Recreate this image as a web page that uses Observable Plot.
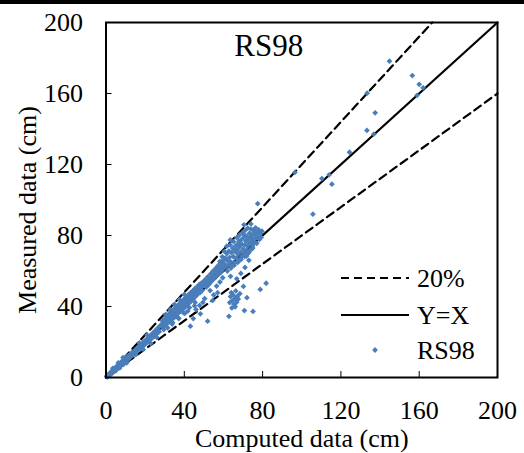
<!DOCTYPE html>
<html><head><meta charset="utf-8">
<script src="https://cdn.jsdelivr.net/npm/d3@7"></script>
<script src="https://cdn.jsdelivr.net/npm/@observablehq/plot@0.6"></script>
<style>
body{margin:0;background:#fff;}
#wrap{position:relative;width:524px;height:453px;overflow:hidden;background:#fff;}
#topbar{position:absolute;left:0;top:0;width:524px;height:4px;background:#000;z-index:2;}
svg text.lg{font-family:'Liberation Serif','Times New Roman',serif !important;font-size:26px !important;}
</style></head><body><div id="wrap"><div id="topbar"></div></div>
<script>
// RS98 series: [computed (cm), measured (cm)]
const rs98 = [
[0.3,0.5],[0.6,1.0],[0.8,0.4],[1.0,1.5],[1.2,0.9],[1.5,1.8],[1.8,2.2],[2.0,1.4],[2.3,2.8],[2.6,2.0],[2.8,3.3],[3.0,2.5],[3.3,3.9],[3.6,2.9],[3.8,4.4],[4.0,3.5],[4.3,5.0],[4.6,4.0],[4.9,5.6],[5.1,4.5],[5.4,6.2],[5.7,5.0],[6.0,6.8],[6.2,5.4],[6.5,7.3],[6.8,6.0],[7.1,7.9],[7.4,6.6],[7.7,8.5],[8.0,7.2],[8.3,9.1],[8.6,7.8],[8.9,9.8],[9.2,8.3],[9.5,10.4],[9.8,9.0],[10.1,11.0],[10.4,9.4],[10.8,11.7],[11.1,10.1],[11.5,12.3],[11.9,10.8],[12.3,13.0],[5.0,3.8],[7.0,5.4],[9.0,7.4],[3.5,5.2],[6.3,8.3],[8.7,11.2],[10.6,8.3],
[12.8,12.0],[13.3,14.1],[13.8,12.6],[14.4,15.0],[15.0,14.0],[15.6,16.3],[16.2,15.1],[16.9,17.6],[17.5,16.2],[18.2,19.0],[18.8,17.4],[19.5,20.4],[20.2,18.9],[20.9,21.8],[21.6,20.2],[22.3,23.3],[23.0,21.6],[23.7,24.8],[24.4,23.0],[25.1,26.4],[25.8,24.4],[26.5,27.9],[27.2,25.8],[27.8,29.3],[15.2,12.9],[19.0,15.8],[22.8,19.2],[26.0,22.6],[17.0,19.5],[21.0,24.0],
[28.3,29.6],[28.8,31.8],[29.2,28.4],[29.7,30.9],[30.1,33.2],[30.4,29.5],[30.9,32.1],[31.3,34.7],[31.6,30.8],[32.0,33.4],[32.4,36.1],[32.7,31.9],[33.1,34.6],[33.5,37.3],[33.8,33.1],[34.2,35.9],[34.6,38.4],[34.9,33.8],[35.3,36.8],[35.6,39.7],[36.0,35.2],[36.3,38.1],[36.7,40.6],[37.0,36.4],[37.4,39.3],[37.8,41.8],[38.1,37.3],[38.4,40.2],[38.8,43.0],[39.1,38.6],[39.5,41.4],[39.9,44.1],[40.2,39.4],[40.6,42.7],[41.0,45.2],[41.3,40.8],[41.7,43.6],[42.0,46.5],[42.4,41.9],[42.8,44.9],[43.1,47.6],[43.5,43.1],[43.8,45.8],[44.2,48.7],[44.6,44.3],[45.0,47.1],[45.3,49.9],[45.7,45.6],[46.1,48.3],[46.5,51.1],[46.8,46.9],[47.2,49.5],[47.6,52.3],[48.0,47.8],[48.3,50.6],[48.7,53.2],[49.1,49.0],[49.5,51.8],[49.9,54.1],
[30.5,35.5],[32.8,38.2],[35.0,41.2],[37.5,43.9],[40.0,46.8],[29.5,27.0],[34.0,31.0],[36.8,33.7],[39.6,36.5],[42.6,39.4],[45.5,42.3],
[31.5,28.0],[33.8,30.1],[37.2,33.2],[40.2,36.1],[41.8,37.4],[43.1,28.9],[44.6,33.2],[46.0,38.3],[47.8,40.6],[51.9,31.7],[48.2,35.9],[49.5,42.3],[50.4,44.5],[45.2,40.4],
[50.3,52.6],[50.7,55.1],[51.2,50.9],[51.6,53.8],[52.0,56.7],[52.5,52.3],[52.9,55.2],[53.4,58.3],[53.7,53.9],[54.1,56.6],[54.6,59.8],[55.0,55.4],[55.4,58.1],[55.9,61.2],[56.2,57.0],[56.7,59.6],[57.1,62.7],[57.5,58.3],[57.9,61.1],[58.4,64.3],[58.8,59.7],[59.2,62.6],[59.7,65.8],[60.0,61.4],[53.2,49.0],[55.0,46.5],[56.5,51.5],[58.2,53.8],[59.6,56.2],[54.5,43.4],[57.0,47.8],
[60.4,64.1],[60.9,67.3],[61.3,62.5],[61.7,69.8],[62.0,65.9],[62.6,63.4],[62.8,71.2],[63.1,67.7],[63.5,74.6],[63.7,65.2],[64.1,70.3],[64.4,62.9],[64.8,72.8],[65.0,68.1],[65.2,76.5],[65.7,64.6],[65.9,70.9],[66.3,74.2],[66.5,67.3],[66.8,78.8],[67.0,72.1],[67.4,69.4],[67.6,75.5],[67.9,65.8],[68.1,80.2],[68.3,73.7],[68.6,70.6],[68.9,77.4],[69.2,67.9],[69.4,75.1],[69.7,81.6],[70.0,72.3],[70.3,78.7],[70.5,69.8],[70.8,74.6],[71.1,82.9],[71.4,76.8],[71.6,71.5],[71.9,79.6],[72.2,73.9],[72.4,84.1],[72.7,77.9],[73.0,75.4],[73.3,81.3],[73.5,71.9],[73.8,79.1],[74.1,83.6],[74.3,76.7],[74.6,80.5],[74.9,74.2],[75.2,78.3],[75.5,82.8],[75.8,76.1],[76.1,80.7],[76.4,84.3],[76.7,78.6],[77.0,75.6],[77.3,81.9],[77.7,79.4],[78.0,83.2],[78.4,77.8],[78.8,81.1],[79.3,79.0],[79.7,82.4],[68.0,76.8],[70.6,80.4],[66.2,71.6],[72.9,70.3],[75.0,72.9],[71.8,68.4],
[62.0,60.0],[63.8,61.6],[65.5,63.2],[67.3,64.8],[69.0,66.5],[70.8,68.2],[72.5,70.0],[74.2,72.2],[63.6,57.0],[66.8,55.6],[68.9,58.6],[71.0,62.0],[73.0,66.0],[58.2,65.4],[59.4,68.0],[60.5,71.0],[61.7,74.0],[57.0,62.4],[63.5,77.5],[70.5,86.0],[74.0,86.5],
[62.8,34.5],[63.2,42.2],[63.6,45.6],[64.0,47.8],[64.5,43.3],[65.0,46.4],[65.4,41.2],[65.9,44.4],[66.3,48.8],[66.7,42.4],[67.1,45.8],[67.6,44.2],[66.0,39.8],[64.3,39.2],[68.4,47.2],[70.2,51.3],[70.7,37.7],[75.1,37.2],[78.8,49.6],[81.8,53.1],[72.0,45.0],
[77.5,97.9],[96.5,115.5],[105.7,92.0],[110.3,112.1],[114.0,114.2],[115.4,108.9],[124.4,126.9],[133.3,139.2],[136.8,137.1],[133.4,160.2],[137.5,149.1],[144.8,178.2],[156.5,170.1],[160.0,165.2],[162.0,163.2],[158.9,159.0]
];
const xTicks = [0, 40, 80, 120, 160, 200];
const yTicks = [0, 40, 80, 120, 160, 200];
const refRatios = [1.2, 0.8];      // ±20% lines
const identityRatio = [1];         // Y = X
const legendLabels = ["20%", "Y=X", "RS98"];
const chartTitle = "RS98";
const xTitle = "Computed data (cm)";
const yTitle = "Measured data (cm)";

const maxV = 200;
const points = rs98.map(([c, m]) => ({c, m}));
const lineData = ratios => ratios.flatMap(r => [
  {r, x: 0, y: 0},
  {r, x: Math.min(maxV, maxV / r), y: Math.min(maxV, maxV * r)}
]);

const FONT = "'Liberation Serif', 'Times New Roman', serif";
const plot = Plot.plot({
  width: 524, height: 453,
  marginLeft: 105.5, marginRight: 27, marginTop: 22, marginBottom: 76,
  style: {fontFamily: FONT, fontSize: "26px", color: "black", background: "white", overflow: "visible"},
  x: {domain: [0, maxV], label: null},
  y: {domain: [0, maxV], label: null},
  marks: [
    Plot.line(lineData(refRatios), {x: "x", y: "y", z: "r", stroke: "black", strokeWidth: 2.2, strokeDasharray: "8,5"}),
    Plot.line(lineData(identityRatio), {x: "x", y: "y", z: "r", stroke: "black", strokeWidth: 2.2}),
    Plot.dot(points, {x: "c", y: "m", symbol: "diamond2", r: 2.6, fill: "#4a7ebb", stroke: "none"}),
    Plot.frame({stroke: "black", strokeWidth: 2}),
    Plot.axisX({ticks: xTicks, tickSize: -6, tickPadding: 29, fontSize: 26, tickFormat: d => String(d), label: null}),
    Plot.axisY({ticks: yTicks, tickSize: -6, tickPadding: 29, fontSize: 26, tickFormat: d => String(d), label: null}),
    Plot.text([chartTitle], {frameAnchor: "top", lineAnchor: "middle", dx: -33, dy: 24, fontSize: 31}),
    Plot.text([xTitle], {frameAnchor: "bottom", lineAnchor: "middle", dy: 61, fontSize: 26}),
    Plot.text([yTitle], {frameAnchor: "left", textAnchor: "middle", lineAnchor: "middle", dx: -78, dy: 10, rotate: -90, fontSize: 26})
  ]
});
document.getElementById("wrap").appendChild(plot);

// legend inside the plot area
const svg = d3.select(plot);
const lg = svg.append("g").attr("fill", "black").attr("text-anchor", "start");
const rows = [278, 315, 350];
lg.append("line").attr("x1", 341).attr("x2", 409).attr("y1", rows[0]).attr("y2", rows[0])
  .attr("stroke", "black").attr("stroke-width", 2.2).attr("stroke-dasharray", "8,5");
lg.append("line").attr("x1", 341).attr("x2", 409).attr("y1", rows[1]).attr("y2", rows[1])
  .attr("stroke", "black").attr("stroke-width", 2.2);
lg.append("path").attr("d", d3.symbol(d3.symbolDiamond2, 2.6 * 2.6 * Math.PI)()).attr("transform", `translate(375,${rows[2]})`).attr("fill", "#4a7ebb");
legendLabels.forEach((t, i) => {
  lg.append("text").attr("class", "lg").attr("font-family", FONT).attr("font-size", 26)
    .attr("x", 417).attr("y", rows[i]).attr("dy", "0.34em").text(t);
});
</script></body></html>
